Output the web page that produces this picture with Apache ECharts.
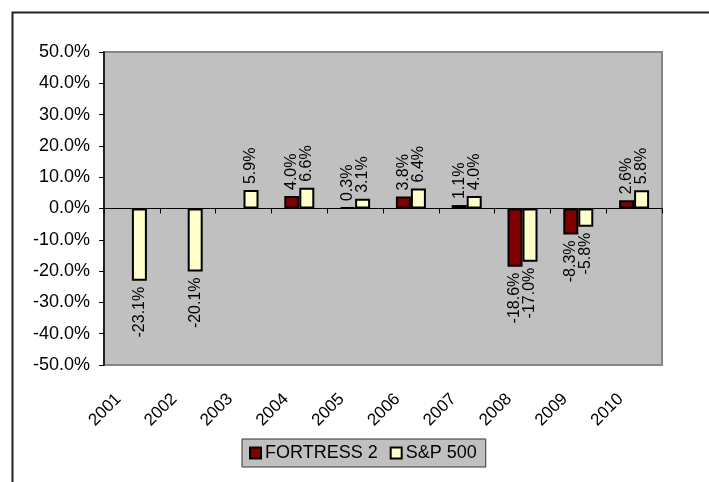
<!DOCTYPE html>
<html>
<head>
<meta charset="utf-8">
<script src="https://cdn.jsdelivr.net/npm/echarts@6/dist/echarts.min.js"></script>
<style>
  html, body { margin: 0; padding: 0; background: #fff; }
  #chart { width: 709px; height: 482px; }
</style>
</head>
<body>
<div id="chart"></div>
<script>
// Annual returns, percent
const years = ['2001', '2002', '2003', '2004', '2005', '2006', '2007', '2008', '2009', '2010'];
const fortress2 = [null, null, null, 4.0, 0.3, 3.8, 1.1, -18.6, -8.3, 2.6];
const sp500 = [-23.1, -20.1, 5.9, 6.6, 3.1, 6.4, 4.0, -17.0, -5.8, 5.8];
const seriesNames = ['FORTRESS 2', 'S&P 500'];
const yTicks = { min: -50, max: 50, step: 10 };

const FONT = "'Liberation Sans', Arial, sans-serif";
const pct = v => Number(v).toFixed(1) + '%';

// Vertical value labels: above positive bars, below negative bars
function withLabels(values) {
  return values.map(v => {
    if (v === null) return null;
    const up = v >= 0;
    return {
      value: v,
      label: {
        position: up ? 'top' : 'bottom',
        align: up ? 'left' : 'right'
      }
    };
  });
}

const barLabel = {
  show: true,
  rotate: 90,
  verticalAlign: 'middle',
  distance: 6,
  color: '#000',
  fontFamily: FONT,
  fontSize: 16,
  formatter: p => pct(p.value)
};

const chart = echarts.init(document.getElementById('chart'), null, { renderer: 'canvas' });

chart.setOption({
  animation: false,
  backgroundColor: '#fff',
  graphic: [{
    type: 'rect',
    left: 10, top: 10,
    shape: { width: 760, height: 540 },
    style: { fill: 'none', stroke: '#222', lineWidth: 2 },
    silent: true
  }],
  grid: {
    left: 104, top: 52, right: 47, bottom: 117,
    show: true,
    backgroundColor: '#c0c0c0',
    borderColor: '#858585',
    borderWidth: 2
  },
  legend: {
    data: seriesNames,
    left: 242, top: 439,
    icon: 'rect',
    itemWidth: 11, itemHeight: 11,
    itemGap: 12,
    padding: [5, 9, 5, 7],
    backgroundColor: '#c0c0c0',
    borderColor: '#333',
    borderWidth: 1,
    textStyle: { fontFamily: FONT, fontSize: 18, color: '#000', padding: [0, 0, 0, -1] }
  },
  xAxis: [{
    // category labels along the bottom edge
    type: 'category',
    data: years,
    position: 'bottom',
    axisLine: { show: false, onZero: false },
    axisTick: { show: false },
    axisLabel: {
      rotate: 45,
      margin: 18,
      padding: [0, 19, 0, 0],
      interval: 0,
      color: '#000',
      fontFamily: FONT,
      fontSize: 17
    }
  }, {
    // zero line with ticks between categories
    type: 'category',
    data: years,
    position: 'bottom',
    axisLine: { show: true, onZero: true, lineStyle: { color: '#000', width: 1 } },
    axisTick: { show: true, length: 5, lineStyle: { color: '#000' } },
    axisLabel: { show: false },
    splitLine: { show: false }
  }],
  yAxis: {
    type: 'value',
    min: yTicks.min, max: yTicks.max, interval: yTicks.step,
    axisLine: { show: true, lineStyle: { color: '#000', width: 1.5 } },
    axisTick: { show: true, length: 5, lineStyle: { color: '#000' } },
    splitLine: { show: false },
    axisLabel: {
      margin: 14,
      color: '#000',
      fontFamily: FONT,
      fontSize: 18,
      formatter: v => pct(v)
    }
  },
  series: [{
    name: seriesNames[0],
    type: 'bar',
    xAxisIndex: 0,
    data: withLabels(fortress2),
    barWidth: 15,
    barGap: '0%',
    itemStyle: { color: '#800000', borderColor: '#000', borderWidth: 2 },
    label: barLabel
  }, {
    name: seriesNames[1],
    type: 'bar',
    xAxisIndex: 0,
    data: withLabels(sp500),
    barWidth: 15,
    barGap: '0%',
    itemStyle: { color: '#ffffcc', borderColor: '#000', borderWidth: 2 },
    label: barLabel
  }]
});
</script>
</body>
</html>
